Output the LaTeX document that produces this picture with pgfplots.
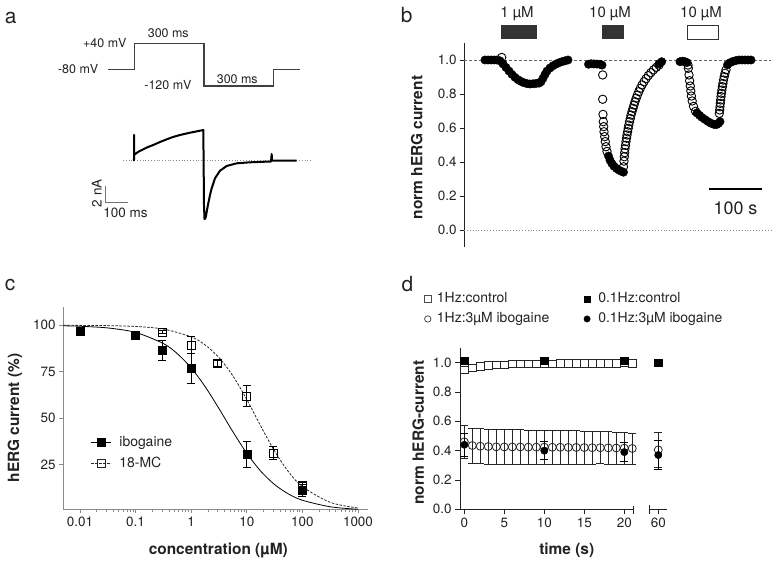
\documentclass[border=0pt]{standalone}
\usepackage{fontspec}
\setmainfont{TeX Gyre Heros}
\usepackage{pgfplots}
\pgfplotsset{compat=1.18}
\definecolor{txt}{HTML}{222222}
\definecolor{axg}{HTML}{8A8A8A}
\newcommand{\tkf}{\fontsize{13.5}{15}\selectfont}
\newcommand{\lbf}{\fontsize{15.5}{18}\selectfont\bfseries}
\begin{document}
\begin{tikzpicture}
\path[use as bounding box] (0bp,0bp) rectangle (774bp,561bp);
\pgfplotsset{
  every axis/.append style={
    scale only axis, clip=false, anchor=south west,
    /pgf/number format/assume math mode=true,
    tick label style={font=\tkf, text=txt},
    tick align=outside, major tick length=4bp, minor tick length=2.5bp,
  },
}
% ---------------- panel a ----------------
\begin{axis}[at={(0bp,301bp)}, width=320bp, height=260bp, xmin=0, xmax=320, ymin=0, ymax=260, y dir=reverse, hide axis]
\addplot[color=black!75, line width=1.1bp] coordinates {(108.3,69.3) (134.3,69.3) (134.3,43.3) (204,43.3) (204,86) (273.3,86) (273.3,69.3) (300,69.3)};
\addplot[color=black!45, dotted, line width=0.8bp] coordinates {(123,160.7) (311,160.7)};
\addplot[black, line width=2bp, line join=round] coordinates {(133,160.5) (134,160) (134,135) (134,155) (138,152) (143.3,149.3) (148,147) (153.3,145) (160,142) (166.7,139.3) (173,137) (180,135) (190,132.7) (200,130.7) (203.3,130) (203.6,160) (204,205) (204.5,219) (205.3,218.5) (206,216) (207,210) (208.3,203.3) (210,195) (211.7,188.3) (215,178.3) (220,170.7) (226.7,166) (236.7,163.3) (250,162.3) (271,161.5) (271.7,154) (272,160.7) (296.7,160.7)};
\addplot[color=black!55, line width=0.8bp] coordinates {(105.3,186) (105.3,202.7) (127.7,202.7)};
\node[anchor=east, font=\fontsize{12.5}{14}\selectfont, text=txt] at (axis cs:130,43.3) {+40 mV};
\node[font=\fontsize{12.5}{14}\selectfont, text=txt] at (axis cs:168.3,33.3) {300 ms};
\node[anchor=east, font=\fontsize{12.5}{14}\selectfont, text=txt] at (axis cs:101.7,69.3) {-80 mV};
\node[anchor=east, font=\fontsize{12.5}{14}\selectfont, text=txt] at (axis cs:195,85) {-120 mV};
\node[font=\fontsize{12.5}{14}\selectfont, text=txt] at (axis cs:237.3,79.3) {300 ms};
\node[rotate=90, font=\tkf, text=txt] at (axis cs:96.7,193.3) {2 nA};
\node[anchor=west, font=\tkf, text=txt, inner sep=0pt] at (axis cs:103.3,213.3) {100 ms};
\end{axis}
% ---------------- panel b ----------------
\begin{axis}[at={(464bp,314bp)}, width=310bp, height=204bp, xmin=0, xmax=310, ymin=-0.1, ymax=1.1,
  axis x line=none, axis y line*=left, axis line style={txt, line width=0.9bp}, ytick style={txt, line width=0.9bp},
  ytick={0,0.2,0.4,0.6,0.8,1.0},
  yticklabel style={/pgf/number format/.cd, fixed, fixed zerofill, precision=1}]
\addplot[black!60, line width=0.8bp, dash pattern=on 3bp off 2bp] coordinates {(0,1) (307,1)};
\addplot[black!45, line width=0.9bp, dotted] coordinates {(0,0) (307,0)};
\addplot[only marks, mark=*, mark size=4.2bp, black] coordinates {
(21,1.0)(24,1.0)(27,1.0)(30,1.0)(33,1.0)(36,0.995)(39,0.977)(42,0.956)(45,0.935)(48,0.915)(51,0.898)(54,0.884)(57,0.874)(60,0.866)(63,0.861)(66,0.859)(69,0.86)(72,0.862)(75,0.864)(77,0.872)(79,0.892)(81,0.915)(83,0.935)(86,0.953)(89,0.966)(92,0.976)(95,0.984)(98,0.99)(101,0.995)(104,1.0)
(124.5,0.975)(127,0.978)(130,0.977)(133,0.976)(136,0.975)(138,0.97)
(144.5,0.435)(146,0.41)(148,0.39)(150,0.375)(152.5,0.362)(155,0.352)(157.5,0.345)(159.5,0.34)
(195,0.978)(197.7,0.99)
(216,0.99)(218.5,0.993)(221,0.99)(223,0.985)
(233,0.688)(235.5,0.675)(238,0.662)(241,0.65)(244,0.638)(247,0.628)(250,0.621)(252.5,0.62)(254.5,0.627)(256,0.638)
(263.5,0.972)(266,0.984)(269,0.992)(272,0.997)(275,1.0)(278,1.0)(281,1.0)(284,1.0)(287,1.0)};
\addplot[only marks, mark=o, mark size=4.2bp, black, mark options={line width=0.9bp}] coordinates {
(37.7,1.015)
(138.7,0.912)(138.7,0.769)(139,0.68)(139.3,0.637)(139.7,0.608)(140,0.578)(140.7,0.549)(141.3,0.52)(142,0.49)(143,0.462)
(159.5,0.372)(160,0.405)(160.3,0.431)(160.7,0.455)(161,0.477)(161.5,0.498)(162,0.52)(162.5,0.54)(163,0.559)(163.6,0.578)(164.2,0.598)(164.8,0.617)(165.5,0.637)(166.3,0.656)(167,0.676)(168,0.696)(169,0.716)(170,0.735)(171,0.755)(172.2,0.775)(173.4,0.794)(174.8,0.814)(176.3,0.833)(178,0.853)(180,0.872)(182,0.89)(184.3,0.908)(186.8,0.925)(189.5,0.942)(192.3,0.957)(195,0.97)
(224,0.97)(224.3,0.951)(225,0.912)(225.6,0.878)(226.3,0.847)(226.8,0.818)(227.4,0.788)(228.2,0.759)(229.5,0.727)(231.5,0.698)
(255.3,0.686)(255.7,0.706)(256,0.725)(256.3,0.745)(256.7,0.765)(257,0.785)(257.4,0.804)(257.9,0.823)(258.4,0.843)(258.9,0.862)(259.5,0.882)(260.2,0.902)(261,0.922)(262,0.942)};
\fill[black!80] (axis cs:37,1.1235) rectangle (axis cs:73,1.206);
\fill[black!80] (axis cs:138,1.1235) rectangle (axis cs:160,1.206);
\draw[black!80, line width=0.9bp, fill=white] (axis cs:223,1.1235) rectangle (axis cs:254,1.206);
\node[font=\fontsize{15}{17}\selectfont, text=txt] at (axis cs:53,1.27) {1 µM};
\node[font=\fontsize{15}{17}\selectfont, text=txt] at (axis cs:146,1.27) {10 µM};
\node[font=\fontsize{15}{17}\selectfont, text=txt] at (axis cs:237,1.27) {10 µM};
\draw[black, line width=2.2bp] (axis cs:245,0.241) -- (axis cs:298,0.241);
\node[font=\fontsize{18}{20}\selectfont, text=txt] at (axis cs:271.5,0.129) {100 s};
\end{axis}
% ---------------- panel c ----------------
\begin{axis}[at={(63bp,51.7bp)}, width=305bp, height=202.6bp, xmode=log, xmin=0.004955, xmax=1514, ymin=0.8, ymax=110,
  axis x line*=bottom, axis y line*=left, axis line style={axg, line width=0.8bp}, tick style={axg, line width=0.8bp},
  xtick={0.01,0.1,1,10,100,1000}, xticklabels={0.01,0.1,1,10,100,1000},
  minor xtick={0.02,0.03,0.04,0.05,0.06,0.07,0.08,0.09,0.2,0.3,0.4,0.5,0.6,0.7,0.8,0.9,2,3,4,5,6,7,8,9,20,30,40,50,60,70,80,90,200,300,400,500,600,700,800,900},
  ytick={25,50,75,100},
  legend cell align=left,
  legend style={draw=none, fill=none, inner sep=0pt, anchor=west, at={(0.09,0.278)}, row sep=5bp, font=\fontsize{14}{16}\selectfont, text=txt,
     /tikz/every odd column/.append style={column sep=6bp}},
  legend image code/.code={\draw[#1] (0bp,0bp) -- (20bp,0bp); \draw[#1] plot coordinates {(10bp,0bp)};}]
\addlegendimage{black, line width=0.8bp, mark=square*, mark size=4bp, mark options={solid}}
\addlegendentry{ibogaine}
\addlegendimage{black!85, line width=0.8bp, dash pattern=on 2.5bp off 1.5bp, mark=square, mark size=4bp, mark options={solid, fill=white}}
\addlegendentry{18-MC}
\addplot[forget plot, black, line width=0.8bp, smooth] coordinates {
(0.005012,99.71)(0.01,99.46)(0.03162,98.55)(0.1,96.14)(0.3162,90.14)(0.5623,84.70)(1,77.01)(1.778,66.97)(3.162,55.10)(5.623,42.62)(10,31.02)(17.78,21.40)(31.62,14.15)(56.23,9.07)(100,5.69)(316.2,2.16)(1000,0.80)};
\addplot[forget plot, black!85, line width=0.8bp, dash pattern=on 2.5bp off 1.5bp, smooth] coordinates {
(0.005012,99.97)(0.01,99.93)(0.03162,99.79)(0.1,99.34)(0.3162,97.94)(1,93.75)(1.778,89.40)(3.162,82.59)(5.623,72.73)(10,60.0)(17.78,45.76)(31.62,32.17)(56.23,21.06)(100,13.04)(316.2,4.53)(1000,1.48)};
\addplot[forget plot, only marks, mark=square, mark size=4bp, black, mark options={fill=white, line width=0.8bp},
  error bars/.cd, y dir=both, y explicit, error bar style={line width=0.9bp, black}, error mark options={rotate=90, mark size=4bp, line width=0.9bp}]
  coordinates {(0.3,96.3) +- (0,0.8) (1,89.4) +- (0,4.6) (3,79.5) +- (0,1.5) (10,61.9) +- (0,5.7) (30,31.1) +- (0,3.4) (100,13.6) +- (0,1.5)};
\addplot[forget plot, only marks, mark=square*, mark size=4bp, black,
  error bars/.cd, y dir=both, y explicit, error bar style={line width=0.9bp, black}, error mark options={rotate=90, mark size=4bp, line width=0.9bp}]
  coordinates {(0.01,96.7) +- (0,1) (0.1,94.6) +- (0,1) (0.3,86.4) +- (0,5.3) (1,76.8) +- (0,8) (10,30.6) +- (0,7) (100,11.0) +- (0,3.2)};
\end{axis}
% ---------------- panel d ----------------
\begin{axis}[at={(460bp,51.7bp)}, width=173bp, height=161.3bp, xmin=-0.54, xmax=21.09, ymin=0, ymax=1.1,
  axis x line*=bottom, axis y line*=left, axis line style={txt, line width=0.9bp}, tick style={txt, line width=0.9bp},
  xtick={0,5,10,15,20}, ytick={0,0.2,0.4,0.6,0.8,1.0}, major tick length=5bp,
  yticklabel style={/pgf/number format/.cd, fixed, fixed zerofill, precision=1},
  legend cell align=left,
  legend style={draw=none, fill=none, inner sep=0pt, anchor=west, at={(-0.206,1.242)}, row sep=3bp, font=\fontsize{14}{16}\selectfont, text=txt,
     nodes={inner sep=2bp, text height=10bp, text depth=3bp}, /tikz/every odd column/.append style={column sep=4bp}},
  legend image code/.code={\draw[#1] plot coordinates {(0bp,0bp)};}]
\addlegendimage{only marks, mark=square, mark size=3.2bp, black!70, mark options={fill=white, line width=0.8bp}}
\addlegendentry{1Hz:control}
\addlegendimage{only marks, mark=o, mark size=3.2bp, black!70, mark options={fill=white, line width=0.8bp}}
\addlegendentry{1Hz:3µM ibogaine}
\addplot[forget plot, only marks, mark=square, mark size=3.7bp, black!85, mark options={fill=white, line width=0.8bp}] coordinates {
(0,0.95)(1,0.965)(2,0.975)(3,0.98)(4,0.985)(5,0.985)(6,0.99)(7,0.99)(8,0.99)(9,0.99)(10,0.995)(11,0.99)(12,0.995)(13,0.995)(14,0.995)(15,0.995)(16,0.995)(17,0.995)(18,0.995)(19,0.995)(20,1.0)(21,0.995)};
\addplot[forget plot, only marks, mark=square*, mark size=3.7bp, black] coordinates {(0,1.015)(10,1.015)(20,1.012)};
\addplot[forget plot, only marks, mark=o, mark size=4bp, black!85, mark options={fill=white, line width=0.8bp},
  error bars/.cd, y dir=both, y explicit, error bar style={line width=0.7bp, black!85}, error mark options={rotate=90, mark size=4bp, line width=0.7bp}]
  coordinates {(0,0.46) +- (0,0.115) (1,0.435) +- (0,0.12) (2,0.43) +- (0,0.12) (3,0.428) +- (0,0.12) (4,0.426) +- (0,0.12) (5,0.425) +- (0,0.118) (6,0.425) +- (0,0.118) (7,0.425) +- (0,0.117) (8,0.424) +- (0,0.116) (9,0.424) +- (0,0.116) (10,0.424) +- (0,0.115) (11,0.423) +- (0,0.114) (12,0.423) +- (0,0.114) (13,0.422) +- (0,0.113) (14,0.422) +- (0,0.113) (15,0.421) +- (0,0.112) (16,0.42) +- (0,0.111) (17,0.42) +- (0,0.11) (18,0.419) +- (0,0.11) (19,0.418) +- (0,0.109) (20,0.417) +- (0,0.108) (21,0.415) +- (0,0.106)};
\addplot[forget plot, only marks, mark=*, mark size=3.7bp, black,
  error bars/.cd, y dir=both, y explicit, error bar style={line width=0.9bp, black}, error mark options={rotate=90, mark size=4bp, line width=0.9bp}]
  coordinates {(0,0.44) +- (0,0.08) (10,0.40) +- (0,0.06) (20,0.39) +- (0,0.065)};
\draw[txt, line width=0.9bp] ([yshift=3bp]axis cs:21.09,0) -- ([yshift=-5bp]axis cs:21.09,0);
\end{axis}
\begin{axis}[at={(649bp,51.7bp)}, width=17.7bp, height=161.3bp, xmin=58.84, xmax=61.05, ymin=0, ymax=1.1,
  axis x line*=bottom, axis y line=none, axis line style={txt, line width=0.9bp}, tick style={txt, line width=0.9bp},
  xtick={60}, major tick length=5bp,
  legend cell align=left,
  legend style={draw=none, fill=none, inner sep=0pt, anchor=west, at={(-3.69,1.242)}, row sep=3bp, font=\fontsize{14}{16}\selectfont, text=txt,
     nodes={inner sep=2bp, text height=10bp, text depth=3bp}, /tikz/every odd column/.append style={column sep=6bp}},
  legend image code/.code={\draw[#1] plot coordinates {(0bp,0bp)};}]
\addlegendimage{only marks, mark=square*, mark size=3.2bp, black}
\addlegendentry{0.1Hz:control}
\addlegendimage{only marks, mark=*, mark size=3.2bp, black}
\addlegendentry{0.1Hz:3µM ibogaine}
\addplot[forget plot, only marks, mark=square*, mark size=3.7bp, black] coordinates {(60,1.0)};
\addplot[forget plot, only marks, mark=o, mark size=4bp, black!85, mark options={fill=white, line width=0.8bp},
  error bars/.cd, y dir=both, y explicit, error bar style={line width=0.7bp, black!85}, error mark options={rotate=90, mark size=4bp, line width=0.7bp}]
  coordinates {(60,0.405) +- (0,0.12)};
\addplot[forget plot, only marks, mark=*, mark size=3.7bp, black,
  error bars/.cd, y dir=both, y explicit, error bar style={line width=0.9bp, black}, error mark options={rotate=90, mark size=4bp, line width=0.9bp}]
  coordinates {(60,0.37) +- (0,0.1)};
\draw[txt, line width=0.9bp] ([yshift=4bp]axis cs:58.84,0) -- ([yshift=-5bp]axis cs:58.84,0);
\end{axis}
% ---------------- labels ----------------
\node[font=\fontsize{21}{23}\selectfont, text=txt] at (10.8bp,542.7bp) {a};
\node[font=\fontsize{21}{23}\selectfont, text=txt] at (406.7bp,546bp) {b};
\node[font=\fontsize{21}{23}\selectfont, text=txt] at (10bp,276bp) {c};
\node[font=\fontsize{21}{23}\selectfont, text=txt] at (407.5bp,277bp) {d};
\node[rotate=90, font=\lbf, text=txt] at (416.7bp,413.5bp) {norm hERG current};
\node[rotate=90, font=\lbf, text=txt] at (15bp,143bp) {hERG current (\%)};
\node[font=\lbf, text=txt] at (218.3bp,11bp) {concentration (µM)};
\node[rotate=90, font=\lbf, text=txt] at (418.3bp,128.5bp) {norm hERG-current};
\node[font=\lbf, text=txt] at (566.7bp,11bp) {time (s)};
\end{tikzpicture}
\end{document}
